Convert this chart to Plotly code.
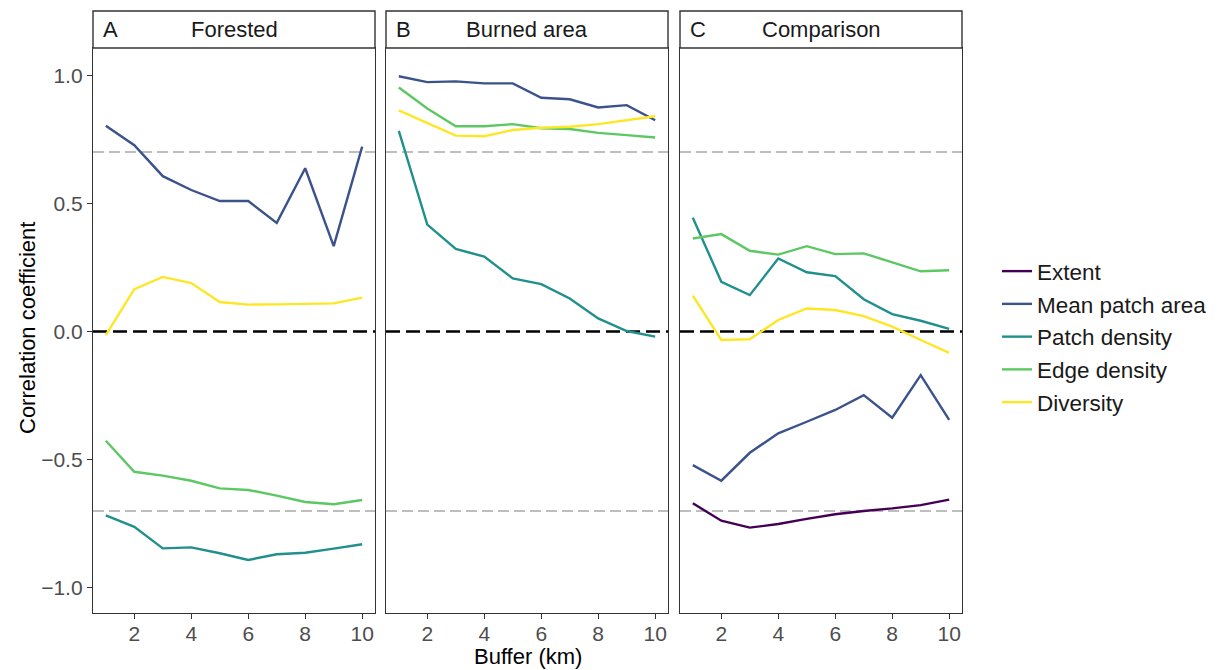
import plotly.graph_objects as go

buffer_km = [1, 2, 3, 4, 5, 6, 7, 8, 9, 10]
metrics = ["Extent", "Mean patch area", "Patch density", "Edge density", "Diversity"]
colors = ["#440154", "#3B528B", "#21908C", "#5DC863", "#FDE725"]
panels = ["Forested", "Burned area", "Comparison"]
panel_letters = ["A", "B", "C"]

forested_mpa = [0.803, 0.727, 0.606, 0.552, 0.509, 0.509, 0.424, 0.637, 0.333, 0.721]
forested_pd = [-0.717, -0.762, -0.846, -0.842, -0.865, -0.891, -0.869, -0.863, -0.847, -0.830]
forested_ed = [-0.426, -0.547, -0.562, -0.582, -0.612, -0.618, -0.640, -0.665, -0.674, -0.657]
forested_div = [-0.014, 0.165, 0.213, 0.189, 0.115, 0.105, 0.106, 0.107, 0.110, 0.132]

burned_mpa = [0.996, 0.973, 0.976, 0.968, 0.968, 0.912, 0.906, 0.874, 0.883, 0.824]
burned_pd = [0.783, 0.417, 0.322, 0.292, 0.207, 0.185, 0.129, 0.051, 0.002, -0.020]
burned_ed = [0.952, 0.870, 0.801, 0.801, 0.809, 0.793, 0.790, 0.775, 0.766, 0.757]
burned_div = [0.863, 0.814, 0.764, 0.762, 0.786, 0.795, 0.799, 0.809, 0.824, 0.840]

comp_extent = [-0.670, -0.738, -0.765, -0.751, -0.731, -0.713, -0.700, -0.690, -0.677, -0.656]
comp_mpa = [-0.521, -0.582, -0.473, -0.397, -0.352, -0.306, -0.248, -0.336, -0.170, -0.345]
comp_pd = [0.444, 0.194, 0.142, 0.285, 0.231, 0.216, 0.126, 0.068, 0.042, 0.010]
comp_ed = [0.363, 0.380, 0.315, 0.300, 0.333, 0.302, 0.305, 0.270, 0.235, 0.239]
comp_div = [0.140, -0.033, -0.030, 0.045, 0.090, 0.084, 0.060, 0.019, -0.033, -0.083]

threshold = 0.7
x_ticks = [2, 4, 6, 8, 10]
y_ticks = [-1.0, -0.5, 0.0, 0.5, 1.0]

data = {
    "Forested": {"Mean patch area": forested_mpa, "Patch density": forested_pd,
                 "Edge density": forested_ed, "Diversity": forested_div},
    "Burned area": {"Mean patch area": burned_mpa, "Patch density": burned_pd,
                    "Edge density": burned_ed, "Diversity": burned_div},
    "Comparison": {"Extent": comp_extent, "Mean patch area": comp_mpa, "Patch density": comp_pd,
                   "Edge density": comp_ed, "Diversity": comp_div},
}

FONT = "Liberation Sans, Arial, sans-serif"
# page body has an 8px margin, so figure coordinates = page coordinates - 8
OFF = 8
W, H = 1240, 670 - OFF
ML, MT = 93 - OFF, 48 - OFF
MR = W - (962 - OFF)
MB = H - (613 - OFF)
pw = W - ML - MR
ph = H - MT - MB
px_domains = [(93, 375), (386, 668), (680, 962)]
domains = [((a - 93) / pw, (b - 93) / pw) for a, b in px_domains]


def py(page_y):
    """page y pixel -> paper y"""
    return (613 - page_y) / ph


def pxx(page_x):
    """page x pixel -> paper x"""
    return (page_x - 93) / pw


fig = go.Figure()

shapes = []
for i in range(3):
    xr = "x domain" if i == 0 else f"x{i+1} domain"
    yr = "y" if i == 0 else f"y{i+1}"
    for yv in (threshold, -threshold):
        shapes.append(dict(type="line", xref=xr, yref=yr, x0=0, x1=1, y0=yv, y1=yv,
                           line=dict(color="#BEBEBE", width=2, dash="11px,5px"), layer="below"))
    shapes.append(dict(type="line", xref=xr, yref=yr, x0=0, x1=1, y0=0, y1=0,
                       line=dict(color="#000000", width=2.6, dash="14px,6px"), layer="below"))

shown = set()
for m, c in zip(metrics, colors):
    for i, p in enumerate(panels):
        if m not in data[p]:
            continue
        fig.add_trace(go.Scatter(
            x=buffer_km, y=data[p][m], mode="lines", name=m,
            line=dict(color=c, width=2.4),
            xaxis="x" if i == 0 else f"x{i+1}",
            yaxis="y" if i == 0 else f"y{i+1}",
            legendgroup=m, showlegend=m not in shown,
        ))
        shown.add(m)

strip_top = py(11)
annotations = []
for i, (p, L) in enumerate(zip(panels, panel_letters)):
    d0, d1 = domains[i]
    shapes.append(dict(type="rect", xref="paper", yref="paper", x0=d0, x1=d1, y0=1, y1=strip_top,
                       line=dict(color="#333333", width=1.4), fillcolor="white", layer="above"))
    annotations.append(dict(text=p, xref="paper", yref="paper", x=(d0 + d1) / 2, y=(1 + strip_top) / 2,
                            showarrow=False, font=dict(size=22, color="#1A1A1A", family=FONT),
                            xanchor="center", yanchor="middle"))
    annotations.append(dict(text=L, xref="paper", yref="paper", x=d0 + 8 / pw, y=(1 + strip_top) / 2,
                            showarrow=False, font=dict(size=22, color="#1A1A1A", family=FONT),
                            xanchor="left", yanchor="middle"))

annotations.append(dict(text="Buffer (km)", xref="paper", yref="paper", x=pxx(527.5), y=py(656),
                        showarrow=False, font=dict(size=22, color="black", family=FONT),
                        xanchor="center", yanchor="middle"))
annotations.append(dict(text="Correlation coefficient", xref="paper", yref="paper",
                        x=pxx(27), y=py(328), textangle=-90,
                        showarrow=False, font=dict(size=22, color="black", family=FONT),
                        xanchor="center", yanchor="middle"))

layout = dict(
    width=W, height=H,
    margin=dict(l=ML, r=MR, t=MT, b=MB),
    plot_bgcolor="white", paper_bgcolor="white",
    font=dict(family=FONT, size=21, color="#4D4D4D"),
    shapes=shapes, annotations=annotations,
    legend=dict(x=pxx(997), y=py(250), xanchor="left", yanchor="top",
                font=dict(size=22.5, color="#1A1A1A", family=FONT), tracegroupgap=0.5,
                itemwidth=30, bgcolor="rgba(0,0,0,0)"),
    showlegend=True,
)
for i in range(3):
    xk = "xaxis" if i == 0 else f"xaxis{i+1}"
    yk = "yaxis" if i == 0 else f"yaxis{i+1}"
    layout[xk] = dict(domain=list(domains[i]), range=[0.55, 10.45], tickvals=x_ticks,
                      ticks="outside", ticklen=5, tickwidth=1.4, tickcolor="#333333",
                      showline=True, mirror=True, linecolor="#333333", linewidth=1.4,
                      showgrid=False, zeroline=False, anchor="y" if i == 0 else f"y{i+1}",
                      tickfont=dict(size=21, color="#4D4D4D"), ticklabelstandoff=-3)
    layout[yk] = dict(domain=[0, 1], range=[-1.098, 1.106], tickvals=y_ticks,
                      ticktext=[("\u2212" if v < 0 else "") + f"{abs(v):.1f}" for v in y_ticks],
                      ticks="outside" if i == 0 else "", ticklen=5, tickwidth=1.4, tickcolor="#333333",
                      showticklabels=(i == 0),
                      showline=True, mirror=True, linecolor="#333333", linewidth=1.4,
                      showgrid=False, zeroline=False, anchor="x" if i == 0 else f"x{i+1}",
                      tickfont=dict(size=21, color="#4D4D4D"))
fig.update_layout(**layout)
fig.write_html("out.html")
